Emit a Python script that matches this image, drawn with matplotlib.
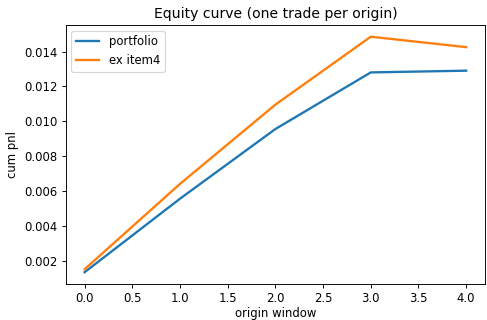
import matplotlib
matplotlib.use("Agg")
import matplotlib.pyplot as plt

# Data
origins = [0, 1, 2, 3, 4]
portfolio = [0.00133, 0.00555, 0.00955, 0.0128, 0.0129]
ex_item4 = [0.00150, 0.00640, 0.01095, 0.01485, 0.01425]

fig, ax = plt.subplots(figsize=(5.8, 3.81), dpi=84)
ax.plot(origins, portfolio, linewidth=2, label='portfolio')
ax.plot(origins, ex_item4, linewidth=2, label='ex item4')
ax.set_title('Equity curve (one trade per origin)')
ax.set_xlabel('origin window', labelpad=1.5)
ax.set_ylabel('cum pnl')
ax.legend(loc='upper left')
fig.subplots_adjust(left=0.1345, right=0.996, top=0.922, bottom=0.1125)
fig.savefig('out.png', dpi=84)
